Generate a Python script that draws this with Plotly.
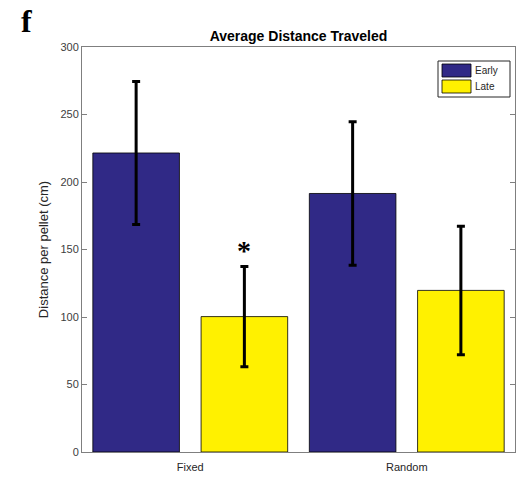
import plotly.graph_objects as go

categories = ["Fixed", "Random"]
early_mean = [221.5, 191.5]
early_err = [53.0, 53.2]
late_mean = [100.3, 119.7]
late_err = [37.1, 47.6]
series_names = ["Early", "Late"]
y_ticks = [0, 50, 100, 150, 200, 250, 300]

EARLY_COLOR = "#302986"
LATE_COLOR = "#FFF100"

fig = go.Figure()
fig.add_trace(go.Bar(
    x=categories, y=early_mean, name=series_names[0],
    marker=dict(color=EARLY_COLOR, line=dict(color="black", width=0.8)),
    error_y=dict(type="data", array=early_err, color="black", thickness=3, width=4),
    showlegend=False,
))
fig.add_trace(go.Bar(
    x=categories, y=late_mean, name=series_names[1],
    marker=dict(color=LATE_COLOR, line=dict(color="black", width=0.8)),
    error_y=dict(type="data", array=late_err, color="black", thickness=3, width=4),
    showlegend=False,
))

L, R, T, B = 82, 1, 47, 29
W, H = 516, 481
pw, ph = W - L - R, H - T - B


def px_x(p):
    return (p - L) / pw


def px_y(p):
    return (H - B - p) / ph


shapes = []
annotations = []
# legend box
shapes.append(dict(type="rect", xref="paper", yref="paper",
                   x0=px_x(438), x1=px_x(510), y0=px_y(97), y1=px_y(61),
                   line=dict(color="#262626", width=1), fillcolor="white", layer="above"))
for i, (nm, col) in enumerate(zip(series_names, [EARLY_COLOR, LATE_COLOR])):
    top = 64 + i * 16
    shapes.append(dict(type="rect", xref="paper", yref="paper",
                       x0=px_x(442), x1=px_x(471), y0=px_y(top + 13), y1=px_y(top),
                       line=dict(color="black", width=0.8), fillcolor=col, layer="above"))
    annotations.append(dict(xref="paper", yref="paper", x=px_x(473), y=px_y(top + 6.5),
                            text=nm, showarrow=False, xanchor="left", yanchor="middle",
                            font=dict(family="Liberation Sans, Arial", size=10, color="#262626")))

# significance asterisk
annotations.append(dict(xref="x", yref="y", x=0.25, y=late_mean[0] + late_err[0] - 1,
                        text="<b>*</b>", showarrow=False, yanchor="bottom", xanchor="center",
                        font=dict(family="Liberation Serif, Times New Roman", size=28, color="black")))
# panel letter
annotations.append(dict(xref="paper", yref="paper", x=px_x(19), y=px_y(21),
                        text="<b>f</b>", showarrow=False, xanchor="left", yanchor="middle",
                        font=dict(family="Liberation Serif, Times New Roman", size=32, color="black")))

fig.update_layout(
    width=W, height=H,
    margin=dict(l=L, r=R, t=T, b=B, pad=0),
    paper_bgcolor="white", plot_bgcolor="white",
    barmode="group", bargap=0.0, bargroupgap=0.2,
    title=dict(text="<b>Average Distance Traveled</b>", x=0.5, xref="paper",
               y=(H - 36) / H, yref="container", yanchor="middle", xanchor="center",
               font=dict(family="Liberation Sans, Arial", size=14, color="black")),
    font=dict(family="Liberation Sans, Arial", size=11, color="#262626"),
    shapes=shapes, annotations=annotations,
)
fig.update_xaxes(type="category", range=[-0.5, 1.5], showline=True, linecolor="#7f7f7f",
                 linewidth=1, mirror=True, ticks="", showgrid=False, zeroline=False,
                 tickfont=dict(size=11, color="#262626"), ticklabelstandoff=5)
fig.update_yaxes(range=[0, 300], tickvals=y_ticks, showline=True, linecolor="#7f7f7f",
                 linewidth=1, mirror="ticks", ticks="inside", ticklen=5, tickcolor="#7f7f7f",
                 showgrid=False, zeroline=False,
                 tickfont=dict(size=11, color="#404040"),
                 title=dict(text="Distance per pellet (cm)", standoff=8,
                            font=dict(size=13, color="#262626")))

fig.write_html("out.html", config={"displayModeBar": False},
               post_script="document.body.style.margin='0';")
